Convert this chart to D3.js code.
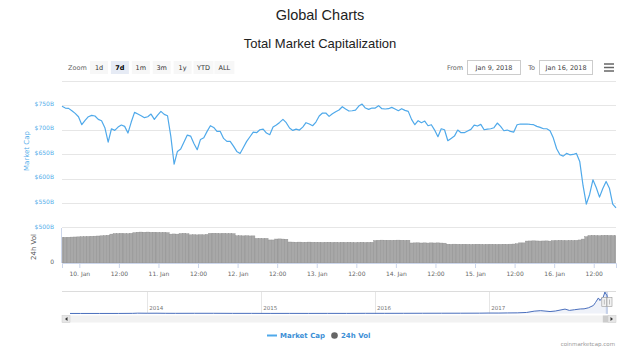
<!DOCTYPE html>
<html>
<head>
<meta charset="utf-8">
<script src="https://cdnjs.cloudflare.com/ajax/libs/d3/7.8.5/d3.min.js"></script>
<style>
  body { margin: 0; background: #fff; }
  svg { display: block; font-family: "DejaVu Sans", Verdana, sans-serif; }
</style>
</head>
<body>
<svg width="640" height="347"></svg>
<script>
// hourly samples from Jan 9 2018 18:45 UTC, values in billions of USD
var startTime = Date.UTC(2018, 0, 9, 18, 45);
var endTime = Date.UTC(2018, 0, 16, 18, 45);

var marketCap = [
  748, 744.5, 743.8, 739, 733.6, 726.8, 710.5, 719.3, 726.8, 729.5,
  728.2, 721.4, 718.6, 704.4, 675.1, 702.3, 698.9, 705.7, 709.8, 707.1,
  693.5, 715.9, 735.6, 732.2, 728.8, 724.8, 726.8, 732.2, 721.4, 730,
  737.7, 731.6, 728.8, 686.7, 630, 656.1, 660.8, 675.1, 689.4, 687.3,
  672.4, 659.5, 680.5, 683.9, 696.9, 708.4, 705, 696.9, 696.9, 682.6,
  676.5, 676.5, 666.9, 656.1, 652, 664.2, 676.5, 686, 695.5, 694.2,
  700.3, 701.6, 693.5, 690.1, 705.7, 709.8, 715.2, 721.4, 714.6, 703.7,
  698.9, 701.6, 699.6, 705.7, 714.6, 711.9, 708.4, 715.9, 728.2, 734.3,
  734.3, 727.5, 732.9, 737, 740.4, 747.2, 742.5, 738.4, 739, 740.4,
  748.6, 752.7, 744.5, 741.8, 744.5, 744.5, 749.3, 743.1, 742.5, 743.1,
  745.8, 742.5, 739, 743.1, 739.7, 737.7, 721.4, 710.5, 718.6, 714.6,
  718, 708.4, 710.5, 699.6, 686, 702.3, 700.3, 677.8, 682.6, 687.3,
  699.6, 694.2, 694.2, 697.6, 701, 709.8, 707.8, 711.2, 700.3, 701.6,
  702.3, 704.4, 713.9, 707.1, 698.2, 699.6, 696.9, 695.5, 710.5, 711.9,
  711.9, 711.9, 711, 710.5, 707.1, 705, 702.3, 702.3, 698.2, 683.3,
  661.5, 649.2, 646.5, 652, 649.2, 649.9, 652, 635.7, 586.7, 548.6,
  568.3, 598.2, 582.6, 562.9, 580.5, 594.8, 581.2, 548.6, 541
];

var volume24h = [
  44, 44, 44.2, 44.4, 44.6, 44.8, 45, 45.2, 45.5, 45.8,
  46, 46.3, 46.6, 47, 47.5, 49.5, 50.5, 50.5, 50.8, 50.5,
  50.3, 50.8, 52, 52.8, 53, 52.8, 53, 52.6, 52.8, 52.5,
  52.3, 52.5, 52, 49.5, 49.8, 49.5, 50.5, 50.8, 50.2, 48.3,
  48.5, 48.2, 48.5, 48.3, 49, 50.8, 51, 50.8, 50.6, 50.8,
  50.5, 50.6, 50.3, 46.7, 46.7, 46.5, 46.7, 46.4, 46.5, 42.2,
  42.2, 42, 42.2, 39.5, 39.5, 41.1, 41.3, 41, 40.8, 36,
  35.8, 35.6, 35.8, 35.5, 35.6, 35.8, 35.6, 35.5, 35.5, 35.3,
  35.5, 35.6, 35.3, 35.5, 35.2, 35.5, 35.3, 35.5, 35.2, 35,
  35.3, 35.5, 35.2, 35.4, 35.5, 38.5, 39, 39.2, 39, 39,
  38.8, 39, 39.2, 39, 38.8, 39, 34.3, 34.5, 34.6, 34.3,
  34.5, 34.2, 34.5, 34.3, 34.5, 34.2, 34, 32.2, 32, 32.3,
  32.1, 32, 32.2, 32, 31.8, 32, 32.2, 32, 31.8, 32,
  32.1, 32, 31.9, 32, 32.2, 32, 32.3, 32.5, 33, 34.5,
  34.5, 37.6, 37.8, 38, 37.8, 37.6, 37.8, 37.9, 37.5, 38.4,
  38.6, 38.8, 38.6, 38.5, 38.7, 38.6, 38.8, 39.5, 41, 45,
  47, 47.3, 47, 46.8, 47.3, 47.5, 47.2, 47, 46.8
];

var capTicks = [500, 550, 600, 650, 700, 750];
var capGrid = [550, 600, 650, 700, 750, 800];
var volTicks = [0];

var zoomButtons = ['1d', '7d', '1m', '3m', '1y', 'YTD', 'ALL'];
var selectedZoom = '7d';
var fromDate = 'Jan 9, 2018';
var toDate = 'Jan 16, 2018';

// long-range history for the navigator
var navDates = [
  '2013-04-28', '2013-06-01', '2013-08-01', '2013-10-01', '2013-11-15', '2013-12-01',
  '2014-01-01', '2014-02-01', '2014-03-01', '2014-04-01', '2014-06-01', '2014-08-01',
  '2014-10-01', '2014-12-01', '2015-02-01', '2015-04-01', '2015-06-01', '2015-08-01',
  '2015-10-01', '2015-12-01', '2016-02-01', '2016-04-01', '2016-06-01', '2016-08-01',
  '2016-10-01', '2016-12-01', '2017-01-01', '2017-02-01', '2017-03-01', '2017-04-01',
  '2017-05-01', '2017-05-25', '2017-06-15', '2017-07-15', '2017-08-01', '2017-09-01',
  '2017-09-15', '2017-10-01', '2017-10-20', '2017-11-01', '2017-11-15', '2017-12-01',
  '2017-12-08', '2017-12-17', '2017-12-22', '2017-12-28', '2018-01-01', '2018-01-07',
  '2018-01-09', '2018-01-13', '2018-01-16'
];
var navCap = [
  1.6, 1.3, 1.3, 1.8, 5.5, 13,
  10, 11, 7.5, 6.5, 8.2, 8.3,
  5, 5.2, 3.5, 3.8, 3.6, 4.5,
  3.9, 6.8, 6.3, 7.5, 9.4, 10.5,
  11.4, 13, 17.7, 17.5, 22, 25,
  40, 90, 110, 75, 95, 170,
  120, 145, 175, 180, 220, 310,
  430, 600, 500, 590, 613, 830,
  755, 730, 540
];
var navYears = [2014, 2015, 2016, 2017];

var legendItems = ['Market Cap', '24h Vol'];

var capColor = '#4fa9ea';
var legendColor = '#3d8fd6';

drawChart();

function drawChart() {
  var svg = d3.select('svg');
  var hour = 3600 * 1000;
  var times = marketCap.map(function (v, i) { return startTime + i * hour; });

  var x = d3.scaleUtc().domain([startTime, endTime]).range([62, 616]);
  var yCap = d3.scaleLinear().domain([500, 800]).range([228, 80.8]);
  var yVol = d3.scaleLinear().domain([0, 60]).range([263, 228]);

  // titles
  svg.append('text')
    .text('Global Charts')
    .attr('x', 320).attr('y', 20)
    .attr('text-anchor', 'middle')
    .attr('font-family', '"Liberation Sans", Arial, sans-serif')
    .attr('font-size', 14.5)
    .attr('fill', '#222');

  svg.append('text')
    .text('Total Market Capitalization')
    .attr('x', 320).attr('y', 48)
    .attr('text-anchor', 'middle')
    .attr('font-family', '"Liberation Sans", Arial, sans-serif')
    .attr('font-size', 13)
    .attr('fill', '#222');

  // range selector
  svg.append('text')
    .text('Zoom')
    .attr('x', 68).attr('y', 70)
    .attr('font-size', 6.5)
    .attr('fill', '#666');

  var btn = svg.selectAll('g.btn')
    .data(zoomButtons)
    .enter().append('g')
    .attr('class', 'btn')
    .attr('transform', function (d, i) { return 'translate(' + (99 + i * 20.9) + ',0)'; });

  btn.append('rect')
    .attr('x', function (d) { return d.length > 2 ? -10 : -9; })
    .attr('y', 61)
    .attr('width', function (d) { return d.length > 2 ? 20 : 18; })
    .attr('height', 13)
    .attr('fill', function (d) { return d == selectedZoom ? '#e6ebf5' : '#f7f7f7'; });

  btn.append('text')
    .text(function (d) { return d; })
    .attr('y', 70)
    .attr('text-anchor', 'middle')
    .attr('font-size', 6.5)
    .attr('font-weight', function (d) { return d == selectedZoom ? 'bold' : 'normal'; })
    .attr('fill', function (d) { return d == selectedZoom ? '#000' : '#333'; });

  // date inputs
  svg.append('text').text('From')
    .attr('x', 463).attr('y', 70)
    .attr('text-anchor', 'end')
    .attr('font-size', 6.5).attr('fill', '#666');

  svg.append('rect')
    .attr('x', 467.5).attr('y', 60.5)
    .attr('width', 53).attr('height', 14)
    .attr('fill', '#fff').attr('stroke', '#ccc');

  svg.append('text').text(fromDate)
    .attr('x', 494).attr('y', 70)
    .attr('text-anchor', 'middle')
    .attr('font-size', 6.5).attr('fill', '#444');

  svg.append('text').text('To')
    .attr('x', 535).attr('y', 70)
    .attr('text-anchor', 'end')
    .attr('font-size', 6.5).attr('fill', '#666');

  svg.append('rect')
    .attr('x', 539.5).attr('y', 60.5)
    .attr('width', 53).attr('height', 14)
    .attr('fill', '#fff').attr('stroke', '#ccc');

  svg.append('text').text(toDate)
    .attr('x', 566).attr('y', 70)
    .attr('text-anchor', 'middle')
    .attr('font-size', 6.5).attr('fill', '#444');

  // menu icon
  [64, 67.5, 71].forEach(function (yy) {
    svg.append('line')
      .attr('x1', 604).attr('x2', 614)
      .attr('y1', yy).attr('y2', yy)
      .attr('stroke', '#666')
      .attr('stroke-width', 1.5);
  });

  // grid lines
  svg.append('g').selectAll('line')
    .data(capGrid)
    .enter().append('line')
    .attr('x1', 62).attr('x2', 616)
    .attr('y1', function (d) { return Math.round(yCap(d)) + 0.5; })
    .attr('y2', function (d) { return Math.round(yCap(d)) + 0.5; })
    .attr('stroke', '#e6e6e6');

  // volume pane frame
  svg.append('line')
    .attr('x1', 62).attr('x2', 616)
    .attr('y1', 227.5).attr('y2', 227.5)
    .attr('stroke', '#e6e6e6');

  svg.append('line')
    .attr('x1', 61.5).attr('x2', 61.5)
    .attr('y1', 228).attr('y2', 263)
    .attr('stroke', '#ccd6eb');

  // market cap axis labels
  svg.append('g')
    .selectAll('text')
    .data(capTicks)
    .enter().append('text')
    .text(function (d) { return '$' + d + 'B'; })
    .attr('x', 54)
    .attr('y', function (d) { return yCap(d) + 0.5; })
    .attr('text-anchor', 'end')
    .attr('font-size', 6)
    .attr('fill', '#55aeea');

  svg.append('text')
    .text('Market Cap')
    .attr('transform', 'translate(29,151) rotate(-90)')
    .attr('text-anchor', 'middle')
    .attr('font-size', 7)
    .attr('fill', '#55aeea');

  // volume axis labels
  svg.append('g')
    .selectAll('text')
    .data(volTicks)
    .enter().append('text')
    .text(function (d) { return d; })
    .attr('x', 54)
    .attr('y', function (d) { return yVol(d) + 0.5; })
    .attr('text-anchor', 'end')
    .attr('font-size', 6)
    .attr('fill', '#666');

  svg.append('text')
    .text('24h Vol')
    .attr('transform', 'translate(36,247) rotate(-90)')
    .attr('text-anchor', 'middle')
    .attr('font-size', 7)
    .attr('fill', '#555');

  svg.append('clipPath')
    .attr('id', 'plot-clip')
    .append('rect')
    .attr('x', 62).attr('y', 75)
    .attr('width', 554).attr('height', 190);

  // volume columns
  var barW = x(startTime + hour) - x(startTime);
  svg.append('g')
    .attr('clip-path', 'url(#plot-clip)')
    .selectAll('rect')
    .data(volume24h)
    .enter().append('rect')
    .attr('x', function (d, i) { return x(times[i]) - barW / 2; })
    .attr('width', barW)
    .attr('y', function (d) { return yVol(d); })
    .attr('height', function (d) { return yVol(0) - yVol(d); })
    .attr('fill', '#a8a8a8')
    .attr('stroke', '#8c8c8c')
    .attr('stroke-width', 0.4);

  // market cap line
  var capLine = d3.line()
    .x(function (d, i) { return x(times[i]); })
    .y(function (d) { return yCap(d); });

  svg.append('path')
    .datum(marketCap)
    .attr('d', capLine)
    .attr('fill', 'none')
    .attr('stroke', capColor)
    .attr('stroke-width', 1.2)
    .attr('stroke-linejoin', 'round');

  // time axis
  var xAxis = d3.axisBottom(x)
    .tickValues(d3.utcHour.every(12).range(startTime, endTime))
    .tickSize(5)
    .tickPadding(4)
    .tickFormat(function (d) {
      return d.getUTCHours() == 0 ? d.getUTCDate() + '. Jan' : '12:00';
    });

  var gx = svg.append('g')
    .attr('transform', 'translate(0,263)')
    .call(xAxis);
  gx.select('.domain').attr('stroke', '#ccd6eb');
  gx.selectAll('.tick line').attr('stroke', '#ccd6eb');
  gx.selectAll('.tick text')
    .attr('font-size', 6)
    .attr('font-family', '"DejaVu Sans", Verdana, sans-serif')
    .attr('fill', '#666');

  // navigator
  var nx = d3.scaleUtc()
    .domain([new Date('2013-04-28T00:00:00Z'), new Date(endTime)])
    .range([70, 608]);
  var ny = d3.scaleLinear().domain([0, 830]).range([313.5, 292]);
  var navPoints = navDates.map(function (d, i) { return [new Date(d + 'T00:00:00Z'), navCap[i]]; });

  svg.append('line')
    .attr('x1', 62).attr('x2', 616)
    .attr('y1', 291.5).attr('y2', 291.5)
    .attr('stroke', '#dcdcdc');

  var ng = svg.append('g');
  ng.selectAll('line')
    .data(navYears)
    .enter().append('line')
    .attr('x1', function (d) { return Math.round(nx(Date.UTC(d, 0, 1))) + 0.5; })
    .attr('x2', function (d) { return Math.round(nx(Date.UTC(d, 0, 1))) + 0.5; })
    .attr('y1', 292).attr('y2', 314)
    .attr('stroke', '#e6e6e6');

  ng.selectAll('text')
    .data(navYears)
    .enter().append('text')
    .text(function (d) { return d; })
    .attr('x', function (d) { return nx(Date.UTC(d, 0, 1)) + 2; })
    .attr('y', 310)
    .attr('font-size', 5.5)
    .attr('fill', '#777');

  svg.append('path')
    .datum(navPoints)
    .attr('d', d3.area()
      .x(function (d) { return nx(d[0]); })
      .y0(ny(0))
      .y1(function (d) { return ny(d[1]); }))
    .attr('fill', 'rgba(51,92,173,0.08)');

  svg.append('path')
    .datum(navPoints)
    .attr('d', d3.line()
      .x(function (d) { return nx(d[0]); })
      .y(function (d) { return ny(d[1]); }))
    .attr('fill', 'none')
    .attr('stroke', '#4a6fbd')
    .attr('stroke-width', 1);

  // selected window and handles
  var selX0 = nx(startTime), selX1 = nx(endTime);
  svg.append('rect')
    .attr('x', selX0).attr('y', 292)
    .attr('width', Math.max(selX1 - selX0, 1.5)).attr('height', 22)
    .attr('fill', 'rgba(102,133,194,0.3)');

  [selX0 - 1.5, selX1 + 1.5].forEach(function (hx) {
    svg.append('rect')
      .attr('x', hx - 2.5).attr('y', 297.5)
      .attr('width', 5).attr('height', 9)
      .attr('fill', '#f2f2f2').attr('stroke', '#999').attr('stroke-width', 0.6);
    svg.append('line')
      .attr('x1', hx).attr('x2', hx)
      .attr('y1', 299.5).attr('y2', 304.5)
      .attr('stroke', '#999').attr('stroke-width', 0.6);
  });

  // scrollbar
  svg.append('rect')
    .attr('x', 62).attr('y', 315.5)
    .attr('width', 554).attr('height', 7)
    .attr('fill', '#f2f2f2');

  svg.append('rect')
    .attr('x', selX0 - 3).attr('y', 315.5)
    .attr('width', 6).attr('height', 7)
    .attr('fill', '#ccc');

  [[62, 'M67.5,317 L67.5,321 L65,319Z'], [608, 'M610.5,317 L610.5,321 L613,319Z']].forEach(function (b) {
    svg.append('rect')
      .attr('x', b[0]).attr('y', 315.5)
      .attr('width', 8).attr('height', 7)
      .attr('fill', '#e6e6e6').attr('stroke', '#ccc').attr('stroke-width', 0.5);
    svg.append('path').attr('d', b[1]).attr('fill', '#333');
  });

  // legend
  svg.append('line')
    .attr('x1', 267).attr('x2', 277)
    .attr('y1', 335.5).attr('y2', 335.5)
    .attr('stroke', capColor)
    .attr('stroke-width', 2);

  svg.append('text')
    .text(legendItems[0])
    .attr('x', 280).attr('y', 338)
    .attr('font-size', 7).attr('font-weight', 'bold')
    .attr('fill', legendColor);

  svg.append('circle')
    .attr('cx', 334.5).attr('cy', 335.5).attr('r', 3.3)
    .attr('fill', '#666');

  svg.append('text')
    .text(legendItems[1])
    .attr('x', 341).attr('y', 338)
    .attr('font-size', 7).attr('font-weight', 'bold')
    .attr('fill', legendColor);

  // credits
  svg.append('text')
    .text('coinmarketcap.com')
    .attr('x', 615).attr('y', 345.5)
    .attr('text-anchor', 'end')
    .attr('font-size', 5.5)
    .attr('fill', '#999');
}
</script>
</body>
</html>
